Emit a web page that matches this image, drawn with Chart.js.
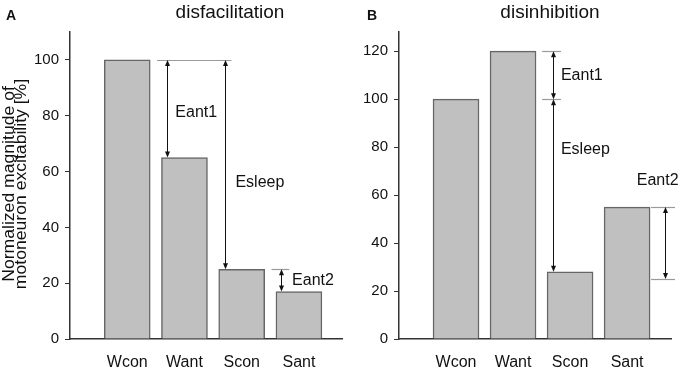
<!DOCTYPE html>
<html>
<head>
<meta charset="utf-8">
<script src="https://cdn.jsdelivr.net/npm/chart.js@4.4.1/dist/chart.umd.min.js"></script>
<style>
  body { margin: 0; background: #fff; }
  .wrap { display: flex; width: 686px; height: 370px; }
  canvas { display: block; }
</style>
</head>
<body>
<div class="wrap">
  <canvas id="chartA" width="343" height="370"></canvas>
  <canvas id="chartB" width="343" height="370"></canvas>
</div>
<script>
const categories = ["Wcon", "Want", "Scon", "Sant"];
const disfacilitation = [100, 65, 25, 17];
const disinhibition = [100, 120, 28, 55];

const FONT = "'Liberation Sans', Arial, sans-serif";
const INK = "#111";

// annotations: x in category units (1 = first bar), y in data values
const annotA = {
  guides: [[1.52, 2.82, disfacilitation[0]], [3.52, 3.83, disfacilitation[2]]],
  arrows: [
    [1.70, disfacilitation[0], disfacilitation[1]],
    [2.70, disfacilitation[0], disfacilitation[2]],
    [3.69, disfacilitation[2], disfacilitation[3]],
  ],
  labels: [["Eant1", 1.84, 81], ["Esleep", 2.89, 56], ["Eant2", 3.88, 21]],
};
const annotB = {
  guides: [
    [2.51, 2.84, disinhibition[1]], [2.51, 2.84, disinhibition[0]],
    [4.42, 4.84, disinhibition[3]], [4.42, 4.84, 25],
  ],
  arrows: [
    [2.70, disinhibition[1], disinhibition[0]],
    [2.70, disinhibition[0], disinhibition[2]],
    [4.66, disinhibition[3], 25],
  ],
  labels: [["Eant1", 2.84, 110], ["Esleep", 2.84, 79], ["Eant2", 4.17, 66]],
};

function arrowHead(ctx, x, y, dir) {
  ctx.beginPath();
  ctx.moveTo(x, y);
  ctx.lineTo(x - 2.5, y - dir * 6);
  ctx.lineTo(x + 2.5, y - dir * 6);
  ctx.closePath();
  ctx.fill();
}

const annotPlugin = {
  id: "annot",
  afterDraw(chart, args, opts) {
    const ctx = chart.ctx;
    const xs = chart.scales.x, ys = chart.scales.y;
    const a = opts.data;
    ctx.save();
    // gray guide lines
    ctx.strokeStyle = "#9a9a9a";
    ctx.lineWidth = 1.2;
    a.guides.forEach(([x1, x2, v]) => {
      const y = Math.round(ys.getPixelForValue(v)) + 0.5;
      ctx.beginPath();
      ctx.moveTo(xs.getPixelForValue(x1), y);
      ctx.lineTo(xs.getPixelForValue(x2), y);
      ctx.stroke();
    });
    // double arrows
    ctx.strokeStyle = INK;
    ctx.fillStyle = INK;
    ctx.lineWidth = 1;
    a.arrows.forEach(([xv, v1, v2]) => {
      const x = Math.round(xs.getPixelForValue(xv)) + 0.5;
      const y1 = ys.getPixelForValue(v1), y2 = ys.getPixelForValue(v2);
      const d = y2 > y1 ? 1 : -1;
      ctx.beginPath();
      ctx.moveTo(x, y1 + d * 2);
      ctx.lineTo(x, y2 - d * 2);
      ctx.stroke();
      arrowHead(ctx, x, y1, -d);
      arrowHead(ctx, x, y2, d);
    });
    // labels
    ctx.font = "16px " + FONT;
    ctx.textAlign = "left";
    ctx.textBaseline = "middle";
    a.labels.forEach(([t, xv, v]) => {
      ctx.fillText(t, xs.getPixelForValue(xv), ys.getPixelForValue(v));
    });
    // title + panel letter
    ctx.textBaseline = "alphabetic";
    ctx.textAlign = "center";
    ctx.font = "19px " + FONT;
    ctx.fillText(opts.title, opts.titleX, 18);
    ctx.textAlign = "left";
    ctx.font = "bold 14px " + FONT;
    ctx.fillText(opts.letter, opts.letterX, 20);
    // y axis title (panel A only)
    if (opts.yTitle) {
      ctx.translate(0, 184);
      ctx.rotate(-Math.PI / 2);
      ctx.scale(1.1, 1);
      ctx.textAlign = "center";
      ctx.font = "16px " + FONT;
      ctx.fillText(opts.yTitle[0], 0, 14);
      ctx.fillText(opts.yTitle[1], 0, 26);
    }
    ctx.restore();
  },
};

function makeChart(id, values, yMax, axisWidth, rightPad, annotOpts) {
  return new Chart(document.getElementById(id), {
    type: "bar",
    data: {
      datasets: [{
        data: values.map((v, i) => ({ x: i + 1, y: v })),
        backgroundColor: "#c0c0c0",
        borderColor: "#666",
        borderWidth: 1.5,
        barThickness: 46,
      }],
    },
    options: {
      responsive: false,
      animation: false,
      layout: { padding: { top: 32, right: rightPad, left: 0, bottom: 0 } },
      plugins: {
        legend: { display: false },
        tooltip: { enabled: false },
        annot: annotOpts,
      },
      scales: {
        x: {
          type: "linear",
          offset: false,
          min: 0,
          max: 4.77,
          afterBuildTicks: (axis) => {
            axis.ticks = categories.map((c, i) => ({ value: i + 1 }));
          },
          afterFit: (axis) => { axis.height = 31; },
          grid: { display: false },
          border: { display: true, color: "#333", width: 1.5 },
          ticks: {
            callback: (v) => categories[v - 1],
            color: INK,
            font: { family: FONT, size: 16 },
            padding: 6,
            maxRotation: 0,
            autoSkip: false,
          },
        },
        y: {
          min: 0,
          max: yMax,
          afterFit: (axis) => { axis.width = axisWidth; },
          grid: { display: true, drawOnChartArea: false, drawTicks: true, tickLength: 5, color: "#333" },
          border: { display: true, color: "#333", width: 1.5 },
          ticks: {
            stepSize: 20,
            includeBounds: false,
            color: INK,
            font: { family: FONT, size: 15 },
            padding: 6,
          },
        },
      },
    },
    plugins: [annotPlugin],
  });
}

makeChart("chartA", disfacilitation, 110, 70, 0, {
  data: annotA,
  title: "disfacilitation",
  titleX: 230,
  letter: "A",
  letterX: 6,
  yTitle: ["Normalized magnitude of", "motoneuron excitability [%]"],
});
makeChart("chartB", disinhibition, 128, 56, 15, {
  data: annotB,
  title: "disinhibition",
  titleX: 207,
  letter: "B",
  letterX: 24,
});
</script>
</body>
</html>
